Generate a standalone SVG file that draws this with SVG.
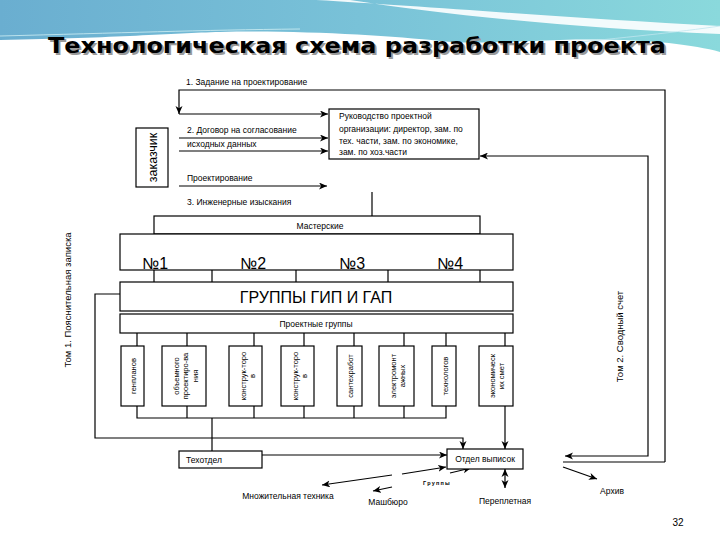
<svg xmlns="http://www.w3.org/2000/svg" width="720" height="540" viewBox="0 0 720 540">
<defs>
<linearGradient id="bg" x1="0" y1="0" x2="1" y2="0">
<stop offset="0" stop-color="#6aaed0"/>
<stop offset="0.5" stop-color="#79c2d8"/>
<stop offset="1" stop-color="#8ad9dc"/>
</linearGradient>
<marker id="ar" markerUnits="userSpaceOnUse" markerWidth="9" markerHeight="8" refX="8" refY="3.5" orient="auto">
<path d="M0,0 L8,3.5 L0,7 L2.2,3.5 Z" fill="#000"/>
</marker>
<marker id="as" markerUnits="userSpaceOnUse" markerWidth="9" markerHeight="8" refX="0" refY="3.5" orient="auto">
<path d="M8,0 L0,3.5 L8,7 L5.8,3.5 Z" fill="#000"/>
</marker>
<style>
.t{font-family:"Liberation Sans",Arial,sans-serif;font-size:8.5px;fill:#000}
.v{font-family:"Liberation Sans",Arial,sans-serif;font-size:7.5px;fill:#000;text-anchor:middle}
.big{font-family:"Liberation Sans",Arial,sans-serif;font-size:16px;fill:#000;text-anchor:middle}
.b{fill:#fff;stroke:#000;stroke-width:1.2}
.c{fill:none;stroke:#000;stroke-width:1.2}
.ttl{font-family:"DejaVu Sans",sans-serif;font-weight:bold;font-size:22px;text-anchor:middle}
</style>
</defs>
<rect width="720" height="540" fill="#fff"/>
<path d="M0,0 H720 V52 C690,44 640,38 560,40 C500,42 470,44 440,41 C390,36 300,30 220,32 C170,33 120,38 0,40 Z" fill="url(#bg)"/>
<path d="M316,0 C420,6 570,18 720,26 L720,34 C570,28 440,14 350,0 Z" fill="#fff" opacity="0.9"/>
<path d="M0,36 C120,33 200,30 300,29" fill="none" stroke="#cfeff4" stroke-width="0.8"/>
<path d="M560,44 C620,38 680,32 720,26" fill="none" stroke="#bfe6ef" stroke-width="0.8"/>
<text class="ttl" x="359" y="55" fill="#9a9a9a" textLength="618" lengthAdjust="spacingAndGlyphs">Технологическая схема разработки проекта</text>
<text class="ttl" x="357" y="53" fill="#000" textLength="618" lengthAdjust="spacingAndGlyphs">Технологическая схема разработки проекта</text>

<g id="connectors">
<path class="c" d="M665,462 V90 H179 V114" marker-end="url(#ar)"/>
<path class="c" d="M179,114 H328" marker-end="url(#ar)"/>
<path class="c" d="M179,138 H328" marker-end="url(#ar)"/>
<path class="c" d="M179,151 H328" marker-end="url(#ar)"/>
<path class="c" d="M179,186 H327" marker-end="url(#ar)"/>
<path class="c" d="M372,192 V216"/>
<path class="c" d="M480,156 H648 V456 H565" marker-start="url(#as)" marker-end="url(#ar)"/>
<path class="c" d="M563,462 H665"/>
<path class="c" d="M563,467 L597,479" marker-end="url(#ar)"/>
<path class="c" d="M154,270 V282 M212,270 V282 M296,270 V282 M388,270 V282 M480,270 V282"/>
<path class="c" d="M137,333 V346 M187,333 V346 M254,333 V346 M304,333 V346 M354,333 V346 M404,333 V346 M446,333 V346 M505,333 V346"/>
<path class="c" d="M137,406 V418 H446 V406 M187,406 V418 M254,406 V418 M304,406 V418 M354,406 V418 M404,406 V418"/>
<path class="c" d="M212,418 V451"/>
<path class="c" d="M120,294 H95 V438 H463 V449" marker-end="url(#ar)"/>
<path class="c" d="M505,406 V449" marker-end="url(#ar)"/>
<path class="c" d="M262,455 H447" marker-end="url(#ar)"/>
<path class="c" d="M392,475 L322,485" marker-end="url(#ar)"/>
<path class="c" d="M392,487 L373,491" marker-end="url(#ar)"/>
<path class="c" d="M402,474 L446,467" marker-end="url(#ar)"/>
<path class="c" d="M450,473 L471,468" marker-end="url(#ar)"/>
<path class="c" d="M505,469 V488" marker-start="url(#as)" marker-end="url(#ar)"/>
</g>

<g id="zakazchik">
<rect class="b" x="136" y="128" width="32" height="59"/>
<text transform="rotate(-90 156.5 157.5)" x="156.5" y="157.5" style="font-family:'Liberation Sans',Arial,sans-serif;font-size:12.5px;text-anchor:middle">заказчик</text>
</g>

<g id="rukovodstvo">
<rect class="b" x="329" y="109" width="150" height="50"/>
<text class="t" x="339" y="119">Руководство проектной</text>
<text class="t" x="339" y="132">организации: директор, зам. по</text>
<text class="t" x="339" y="144">тех. части, зам. по экономике,</text>
<text class="t" x="339" y="155">зам. по хоз.части</text>
</g>

<g id="labels">
<text class="t" x="186" y="85">1. Задание на проектирование</text>
<text class="t" x="187" y="133">2. Договор на согласование</text>
<text class="t" x="187" y="147">исходных данных</text>
<text class="t" x="187" y="181">Проектирование</text>
<text class="t" x="187" y="205">3. Инженерные изыскания</text>
<text transform="rotate(-90 70.5 300)" x="70.5" y="300" style="font-family:'Liberation Sans',Arial,sans-serif;font-size:9.5px;text-anchor:middle">Том 1. Пояснительная записка</text>
<text transform="rotate(-90 622.5 336.5)" x="622.5" y="336.5" style="font-family:'Liberation Sans',Arial,sans-serif;font-size:9.5px;text-anchor:middle">Том 2. Сводный счет</text>
</g>

<g id="masterskie">
<rect class="b" x="154" y="216" width="326" height="18"/>
<text class="t" x="320" y="228.5" text-anchor="middle">Мастерские</text>
</g>

<g id="nomera">
<rect class="b" x="120" y="234" width="393" height="36"/>
<text class="big" x="155" y="269">№1</text>
<text class="big" x="253" y="269">№2</text>
<text class="big" x="352" y="269">№3</text>
<text class="big" x="450" y="269">№4</text>
</g>

<g id="gip">
<rect class="b" x="120" y="282" width="393" height="29"/>
<text class="big" x="316" y="303">ГРУППЫ ГИП И ГАП</text>
</g>

<g id="proektnye">
<rect class="b" x="120" y="314" width="393" height="19"/>
<text class="t" x="316" y="327" text-anchor="middle">Проектные группы</text>
</g>

<g id="g1">
<rect class="b" x="121" y="346" width="23" height="60"/>
<text class="v" transform="rotate(-90 135.5 376)" x="135.5" y="376">генпланов</text>
</g>
<g id="g2">
<rect class="b" x="162" y="346" width="44" height="60"/>
<text class="v" transform="rotate(-90 178.5 376)" x="178.5" y="376">объемного</text>
<text class="v" transform="rotate(-90 188 376)" x="188" y="376">проектиро-ва</text>
<text class="v" transform="rotate(-90 197.5 376)" x="197.5" y="376">ния</text>
</g>
<g id="g3">
<rect class="b" x="229" y="346" width="33" height="60"/>
<text class="v" transform="rotate(-90 246 376)" x="246" y="376">конструк-торо</text>
<text class="v" transform="rotate(-90 254.5 376)" x="254.5" y="376">в</text>
</g>
<g id="g4">
<rect class="b" x="281" y="346" width="33" height="60"/>
<text class="v" transform="rotate(-90 297.5 376)" x="297.5" y="376">конструк-торо</text>
<text class="v" transform="rotate(-90 306.5 376)" x="306.5" y="376">в</text>
</g>
<g id="g5">
<rect class="b" x="337" y="346" width="25" height="60"/>
<text class="v" transform="rotate(-90 352.5 376)" x="352.5" y="376">сантехработ</text>
</g>
<g id="g6">
<rect class="b" x="379" y="346" width="35" height="60"/>
<text class="v" transform="rotate(-90 396 376)" x="396" y="376">электромонт</text>
<text class="v" transform="rotate(-90 404.5 376)" x="404.5" y="376">ажных</text>
</g>
<g id="g7">
<rect class="b" x="432" y="346" width="24" height="60"/>
<text class="v" transform="rotate(-90 447.5 376)" x="447.5" y="376">технологов</text>
</g>
<g id="g8">
<rect class="b" x="479" y="346" width="34" height="60"/>
<text class="v" transform="rotate(-90 494.5 376)" x="494.5" y="376">экономическ</text>
<text class="v" transform="rotate(-90 504 376)" x="504" y="376">их смет</text>
</g>

<g id="tehotdel">
<rect class="b" x="179" y="451" width="83" height="17"/>
<text class="t" x="186" y="462.5">Техотдел</text>
</g>
<g id="otdel">
<rect class="b" x="447" y="449" width="76" height="20"/>
<text class="t" x="485" y="462" text-anchor="middle">Отдел выписок</text>
</g>

<g id="bottom-labels">
<text x="437" y="485" style="font-family:'Liberation Sans',Arial,sans-serif;font-size:5.5px;font-weight:bold;letter-spacing:1.2px;text-anchor:middle">Группы</text>
<text class="t" x="288" y="499" text-anchor="middle">Множительная техника</text>
<text class="t" x="388" y="505" text-anchor="middle">Машбюро</text>
<text class="t" x="505" y="504" text-anchor="middle">Переплетная</text>
<text class="t" x="612" y="494" text-anchor="middle">Архив</text>
<text x="678" y="526" style="font-family:'Liberation Sans',Arial,sans-serif;font-size:10px;text-anchor:middle">32</text>
</g>
</svg>
